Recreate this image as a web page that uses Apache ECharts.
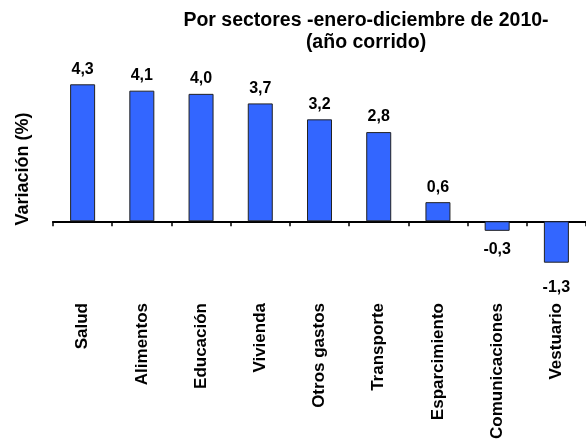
<!DOCTYPE html>
<html>
<head>
<meta charset="utf-8">
<script src="https://cdn.jsdelivr.net/npm/echarts@6/dist/echarts.min.js"></script>
<style>
html,body{margin:0;padding:0;background:#fff;}
#c{width:586px;height:445px;}
</style>
</head>
<body>
<div id="c"></div>
<script>
const categories = ['Salud','Alimentos','Educación','Vivienda','Otros gastos','Transporte','Esparcimiento','Comunicaciones','Vestuario'];
const values = [4.3, 4.1, 4.0, 3.7, 3.2, 2.8, 0.6, -0.3, -1.3];
const titleLines = ['Por sectores -enero-diciembre de 2010-', '(año corrido)'];
const yAxisTitle = 'Variación (%)';

const FONT = '"Liberation Sans", Arial, sans-serif';
const chart = echarts.init(document.getElementById('c'), null, {renderer:'canvas'});

const data = values.map(v => ({
  value: v,
  label: v < 0 ? {position:'bottom', distance: v < -1 ? 17 : 11} : {position:'top', distance: 7}
}));

chart.setOption({
  animation: false,
  backgroundColor: '#fff',
  title: {
    text: titleLines.join('\n'),
    left: 361, top: 5,
    textAlign: 'center',
    textStyle: {fontFamily: FONT, fontWeight: 'bold', fontSize: 19.5, lineHeight: 22, color: '#000'}
  },
  graphic: [{
    type: 'text',
    x: 23, y: 169,
    rotation: Math.PI/2,
    style: {text: yAxisTitle, font: 'bold 18px ' + FONT, fill: '#000', align: 'center', verticalAlign: 'middle'}
  }],
  grid: {left: 53, right: 0, top: 62, height: 223, containLabel: false, outerBoundsMode: 'none'},
  xAxis: {
    type: 'category',
    data: categories,
    axisLine: {show: true, onZero: true, lineStyle: {color: '#000', width: 2}},
    axisTick: {show: true, length: 5, lineStyle: {color: '#000', width: 1.5}},
    axisLabel: {rotate: 90, margin: 18, fontFamily: FONT, fontWeight: 'bold', fontSize: 17, color: '#000', interval: 0}
  },
  yAxis: {
    type: 'value', min: -2, max: 5, interval: 1,
    show: false,
    splitLine: {show: false}
  },
  series: [{
    type: 'bar',
    data: data,
    barWidth: 25,
    itemStyle: {color: '#3366FF', borderColor: '#222', borderWidth: 1},
    label: {
      show: true,
      fontFamily: FONT, fontWeight: 'bold', fontSize: 16, color: '#000',
      formatter: p => p.value.toFixed(1).replace('.', ',')
    }
  }]
});
</script>
</body>
</html>
